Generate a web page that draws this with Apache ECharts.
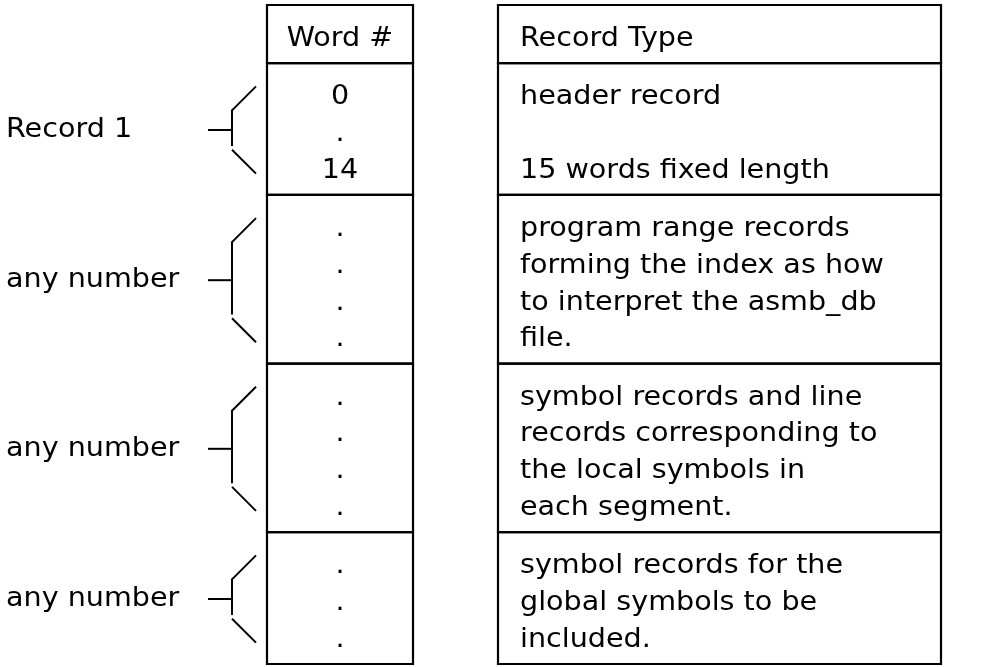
<!DOCTYPE html>
<html><head><meta charset="utf-8">
<script src="https://cdn.jsdelivr.net/npm/echarts@6/dist/echarts.min.js"></script>
<style>html,body{margin:0;padding:0;background:#fff}#c{width:987px;height:667px}</style>
</head><body><div id="c"></div>
<script>
// ---- data ----
const headers = ['Word #', 'Record Type'];
const recordLabels = ['Record 1', 'any number', 'any number', 'any number'];
const wordNumbers = [
  ['0', '.', '14'],
  ['.', '.', '.', '.'],
  ['.', '.', '.', '.'],
  ['.', '.', '.']
];
const recordTypes = [
  ['header record', '', '15 words fixed length'],
  ['program range records', 'forming the index as how', 'to interpret the asmb_db', 'file.'],
  ['symbol records and line', 'records corresponding to', 'the local symbols in', 'each segment.'],
  ['symbol records for the', 'global symbols to be', 'included.']
];

// ---- layout (x in px-units of the x axis, y in text-line units) ----
const PAD = 0.58;          // vertical padding per row, in line units
const TEXT_SHIFT = 0.14;   // slight downward shift of text
const WORD_COL = [267, 413];
const TYPE_COL = [498, 941];
const TYPE_TEXT_X = 520;
const LABEL_X = 6;
const BRACE_X = [208, 232, 256];
const BRACE_DIAG = 0.65;   // line units
const BRACE_INSET = 0.58;  // line units from row edge
const FONT = '26px "DejaVu Sans"';
const SCALE_X = 1.1;

const rows = [{ lines: 1, header: true }].concat(
  wordNumbers.map((w, i) => ({ lines: w.length, idx: i }))
);
let acc = 0;
const spans = rows.map(r => { const top = acc; acc += r.lines + PAD; return { top, bottom: acc }; });
const TOTAL = acc;

function txt(p, text, align) {
  return {
    type: 'text', x: p[0], y: p[1], scaleX: SCALE_X,
    style: { text, fill: '#000', font: FONT, align: align, verticalAlign: 'middle' }
  };
}

function renderItem(params, api) {
  const i = api.value(0);
  const row = rows[i];
  const span = spans[i];
  const ch = [];
  [WORD_COL, TYPE_COL].forEach(col => {
    const a = api.coord([col[0], span.top]);
    const b = api.coord([col[1], span.bottom]);
    ch.push({ type: 'rect', shape: { x: a[0], y: a[1], width: b[0] - a[0], height: b[1] - a[1] },
      style: { fill: null, stroke: '#000', lineWidth: 2.2 } });
  });
  const lineY = k => span.top + PAD / 2 + k + 0.5 + TEXT_SHIFT;
  if (row.header) {
    ch.push(txt(api.coord([(WORD_COL[0] + WORD_COL[1]) / 2, lineY(0)]), headers[0], 'center'));
    ch.push(txt(api.coord([TYPE_TEXT_X, lineY(0)]), headers[1], 'left'));
  } else {
    const w = wordNumbers[row.idx], t = recordTypes[row.idx];
    w.forEach((s, k) => ch.push(txt(api.coord([(WORD_COL[0] + WORD_COL[1]) / 2, lineY(k)]), s, 'center')));
    t.forEach((s, k) => { if (s) ch.push(txt(api.coord([TYPE_TEXT_X, lineY(k)]), s, 'left')); });
    // brace
    const top = span.top + BRACE_INSET + 0.05;
    const bot = span.bottom - BRACE_INSET;
    const mid = (top + bot) / 2;
    const p1 = api.coord([BRACE_X[2], top]);
    const p2 = api.coord([BRACE_X[1], top + BRACE_DIAG]);
    const p3 = api.coord([BRACE_X[1], bot - BRACE_DIAG - 0.1]);
    const p4 = api.coord([BRACE_X[1], bot - BRACE_DIAG]);
    const p5 = api.coord([BRACE_X[2], bot]);
    const m0 = api.coord([BRACE_X[0], mid]);
    const m1 = api.coord([BRACE_X[1], mid]);
    const ls = { stroke: '#000', lineWidth: 2, fill: null };
    ch.push({ type: 'polyline', shape: { points: [p1, p2, p3] }, style: ls });
    ch.push({ type: 'line', shape: { x1: p4[0], y1: p4[1], x2: p5[0], y2: p5[1] }, style: ls });
    ch.push({ type: 'line', shape: { x1: m0[0], y1: m0[1], x2: m1[0], y2: m1[1] }, style: ls });
    ch.push(txt(api.coord([LABEL_X, mid]), recordLabels[row.idx], 'left'));
  }
  return { type: 'group', children: ch };
}

const chart = echarts.init(document.getElementById('c'), null, { renderer: 'canvas' });
chart.setOption({
  backgroundColor: '#fff',
  animation: false,
  grid: { left: 0, right: 0, top: 5, bottom: 3 },
  xAxis: { type: 'value', min: 0, max: 987, show: false },
  yAxis: { type: 'value', min: 0, max: TOTAL, inverse: true, show: false },
  series: [{
    type: 'custom',
    renderItem,
    data: rows.map((r, i) => [i]),
    clip: false
  }]
});
</script>
</body></html>
